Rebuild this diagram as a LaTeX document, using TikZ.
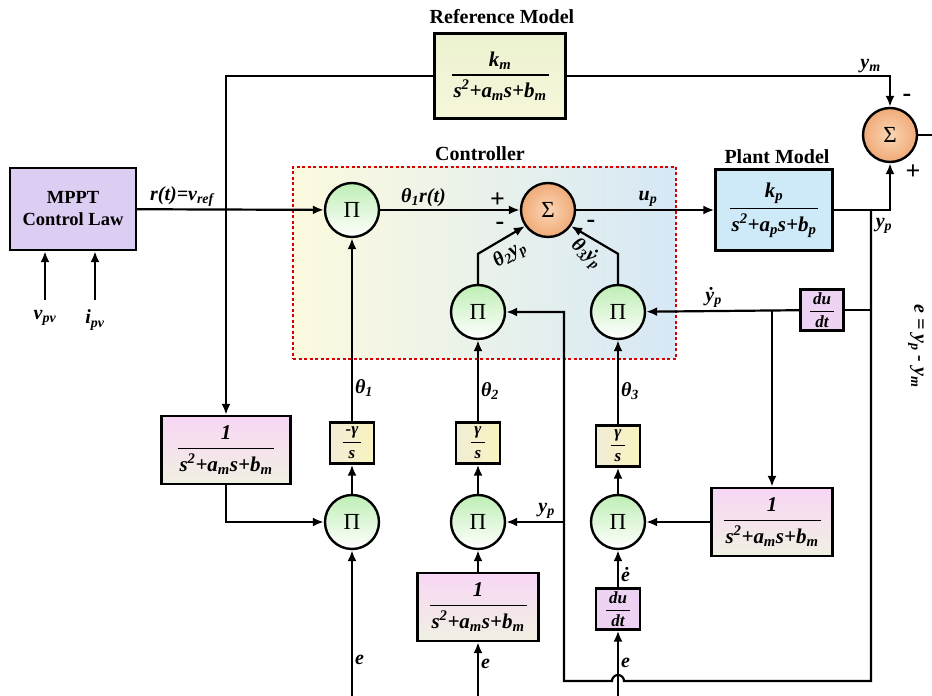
\documentclass[tikz,border=0pt]{standalone}
\usepackage{amsmath}
\usepackage{fontspec}
\setmainfont{Liberation Serif}
\usetikzlibrary{arrows.meta,positioning,shapes.geometric}

\definecolor{mpptfill}{RGB}{220,205,242}
\definecolor{reftop}{RGB}{236,242,208}
\definecolor{refbot}{RGB}{247,246,218}
\definecolor{plantfill}{RGB}{206,233,248}
\definecolor{filttop}{RGB}{248,214,245}
\definecolor{filtbot}{RGB}{240,240,226}
\definecolor{intleft}{RGB}{242,236,214}
\definecolor{intright}{RGB}{248,244,190}
\definecolor{derivfill}{RGB}{238,210,243}
\definecolor{prodtop}{RGB}{190,238,180}
\definecolor{suminner}{RGB}{250,214,180}
\definecolor{sumouter}{RGB}{240,170,120}
\definecolor{ctrlleft}{RGB}{252,250,222}
\definecolor{ctrlright}{RGB}{214,232,246}

\newcommand{\lblfont}{\fontsize{20}{22}\selectfont\bfseries\itshape}
\newcommand{\frcfont}{\fontsize{21}{23}\selectfont\bfseries\itshape}
\newcommand{\ttlfont}{\fontsize{20}{22}\selectfont\bfseries}
\newcommand{\smlfont}{\fontsize{17}{18}\selectfont\bfseries\itshape}
\newcommand{\blkfrac}[2]{$\genfrac{}{}{1.5pt}{0}{\text{#1}}{\text{\kern2pt#2\kern2pt}}$}
\newcommand{\smlfrac}[2]{$\genfrac{}{}{1.2pt}{0}{\text{\kern3pt#1\kern3pt}}{\text{#2}}$}

\begin{document}
\begin{tikzpicture}[
    x=1pt, y=1pt,
    line width=2.2pt,
    >={Latex[length=11pt,width=9pt]},
    lbl/.style={font=\lblfont, inner sep=2pt},
    title/.style={font=\ttlfont},
    sign/.style={font=\fontsize{26}{26}\selectfont\bfseries, inner sep=0pt},
    blockbox/.style={draw, line width=2.4pt, inner sep=0pt, align=center, font=\frcfont},
    mpptbox/.style={blockbox, fill=mpptfill, font=\fontsize{18.5}{22}\selectfont\bfseries},
    refbox/.style={blockbox, top color=reftop, bottom color=refbot},
    plantbox/.style={blockbox, fill=plantfill},
    filtbox/.style={blockbox, top color=filttop, bottom color=filtbot},
    intbox/.style={blockbox, left color=intleft, right color=intright, font=\smlfont},
    derivbox/.style={blockbox, fill=derivfill, font=\smlfont},
    prodnode/.style={circle, draw, line width=2.4pt, minimum size=54pt, inner sep=0pt,
        top color=prodtop, bottom color=white, font=\fontsize{23}{23}\selectfont},
    sumnode/.style={circle, draw, line width=2.4pt, minimum size=54pt, inner sep=0pt,
        inner color=suminner, outer color=sumouter, font=\fontsize{23}{23}\selectfont},
    ctrlframe/.style={draw=red!85!black, line width=1.6pt, dash pattern=on 3pt off 2.5pt,
        left color=ctrlleft, right color=ctrlright, inner sep=0pt}
]
\useasboundingbox (0,0) rectangle (932,696);

% Controller frame
\node[ctrlframe, minimum width=383pt, minimum height=192pt] (ctrl) at (484.5,433) {};
\node[title] (ctrltitle) at (480,542) {Controller};

% Main blocks
\node[mpptbox, minimum width=126pt, minimum height=82pt] (mppt) at (73,487) {MPPT\\Control Law};
\node[refbox, minimum width=131pt, minimum height=85pt] (ref) at (500,620)
    {\blkfrac{k\textsubscript{m}}{s\textsuperscript{2}+a\textsubscript{m}s+b\textsubscript{m}}};
\node[title] (reftitle) at (502,679) {Reference Model};
\node[plantbox, minimum width=117pt, minimum height=81pt] (plant) at (774,486)
    {\blkfrac{k\textsubscript{p}}{s\textsuperscript{2}+a\textsubscript{p}s+b\textsubscript{p}}};
\node[title] (planttitle) at (777,539) {Plant Model};

\node[sumnode] (sumc) at (548,486) {Σ};
\node[sumnode] (sumr) at (890,561) {Σ};
\node[prodnode] (p1) at (352,486) {Π};
\node[prodnode] (p2) at (478,384) {Π};
\node[prodnode] (p3) at (618,384) {Π};
\node[derivbox, minimum width=43pt, minimum height=41pt] (d1) at (822,386) {\smlfrac{du}{dt}};

% Adaptation law
\node[filtbox, minimum width=129pt, minimum height=68pt] (f1) at (226,246)
    {\blkfrac{1}{s\textsuperscript{2}+a\textsubscript{m}s+b\textsubscript{m}}};
\node[intbox, minimum width=44pt, minimum height=41pt] (i1) at (352,253) {\smlfrac{-γ}{s}};
\node[prodnode] (q1) at (352,174) {Π};
\node[intbox, minimum width=44pt, minimum height=41pt] (i2) at (478,253) {\smlfrac{γ}{s}};
\node[prodnode] (q2) at (478,174) {Π};
\node[filtbox, minimum width=121pt, minimum height=68pt] (f2) at (478,89)
    {\blkfrac{1}{s\textsuperscript{2}+a\textsubscript{m}s+b\textsubscript{m}}};
\node[intbox, minimum width=44pt, minimum height=41pt] (i3) at (618,250) {\smlfrac{γ}{s}};
\node[prodnode] (q3) at (618,174) {Π};
\node[derivbox, minimum width=44pt, minimum height=41pt] (d2) at (618,87) {\smlfrac{du}{dt}};
\node[filtbox, minimum width=121pt, minimum height=68pt] (f3) at (772,174)
    {\blkfrac{1}{s\textsuperscript{2}+a\textsubscript{m}s+b\textsubscript{m}}};

% Branch points and free ends
\coordinate (jp) at (871,486);
\coordinate (jd) at (871,386);
\coordinate (jf) at (772,386);
\coordinate (jy) at (564,174);
\coordinate (out) at (932,561);
\coordinate (vpv) at (45,396);
\coordinate (ipv) at (95,396);
\coordinate (e1) at (352,0);
\coordinate (e2) at (478,0);
\coordinate (e3) at (618,0);

% MPPT inputs
\draw[->] (vpv) -- (vpv |- mppt.south);
\draw[->] (ipv) -- (ipv |- mppt.south);
\node[lbl, below=7pt of vpv] (vpvlbl) {v\textsubscript{pv}};
\node[lbl, below=7pt of ipv] (ipvlbl) {i\textsubscript{pv}};

% Reference path
\draw[->] (mppt) -- node[lbl, above, pos=0.24] {r(t)=v\textsubscript{ref}} (p1);
\draw[->] (ref.west) -| (f1.north);
\draw[->] (ref.east) -| node[lbl, above, pos=0.47] {y\textsubscript{m}} (sumr.north);
\node[sign] (msumr) at (907,598) {-};

% Controller
\draw[->] (p1) -- node[lbl, above, pos=0.31] {θ\textsubscript{1}r(t)}
    node[sign, above=1pt, pos=0.84] {+} (sumc);
\draw[->] (p2.north) -- ++(0,30) -- (sumc.-145);
\draw[->] (p3.north) -- ++(0,30) -- (sumc.-35);
\node[lbl, rotate=32, inner sep=0pt] (th2lbl) at (510,441) {θ\textsubscript{2}y\textsubscript{p}};
\node[lbl, rotate=-40, inner sep=0pt] (th3lbl) at (586,442) {θ\textsubscript{3}\.{y}\textsubscript{p}};
\node[sign] (msc2) at (500,470) {-};
\node[sign] (msc3) at (591,472) {-};
\draw[->] (sumc) -- node[lbl, above, pos=0.52] {u\textsubscript{p}} (plant);

% Plant output and error
\draw[->] (plant.east) -| (sumr.south);
\node[sign] (psumr) at (913,524) {+};
\node[lbl] (yplbl) at (884,470) {y\textsubscript{p}};
\draw (sumr) -- (out);
\node[lbl, rotate=-90] (errlbl) at (916,350) {e = y\textsubscript{p} - y\textsubscript{m}};

% Feedback of y_p
\draw[->] (jp) -- (871,15) -- (624,15) arc[start angle=0, end angle=180, radius=6] -- (564,15) |- (p2.east);
\draw[->] (jy) -- node[lbl, above, pos=0.3] {y\textsubscript{p}} (q2);
\draw (jd) -- (d1);
\draw[->] (d1) -- node[lbl, above, pos=0.56] {\.{y}\textsubscript{p}} (p3);
\draw[->] (jf) -- (f3);
\draw[->] (f3) -- (q3);

% Parameter update laws
\draw[->] (f1.south) |- (q1.west);
\draw[->] (e1) -- node[lbl, right, pos=0.25] {e} (q1);
\draw[->] (q1) -- (i1);
\draw[->] (i1) -- node[lbl, right, pos=0.18] {θ\textsubscript{1}} (p1);
\draw[->] (e2) -- node[lbl, right, pos=0.6] {e} (f2);
\draw[->] (f2) -- (q2);
\draw[->] (q2) -- (i2);
\draw[->] (i2) -- node[lbl, right, pos=0.37] {θ\textsubscript{2}} (p2);
\draw[->] (e3) -- node[lbl, right, pos=0.5] {e} (d2);
\draw[->] (d2) -- node[lbl, right, pos=0.34] {ė} (q3);
\draw[->] (q3) -- (i3);
\draw[->] (i3) -- node[lbl, right, pos=0.39] {θ\textsubscript{3}} (p3);

\end{tikzpicture}
\end{document}
